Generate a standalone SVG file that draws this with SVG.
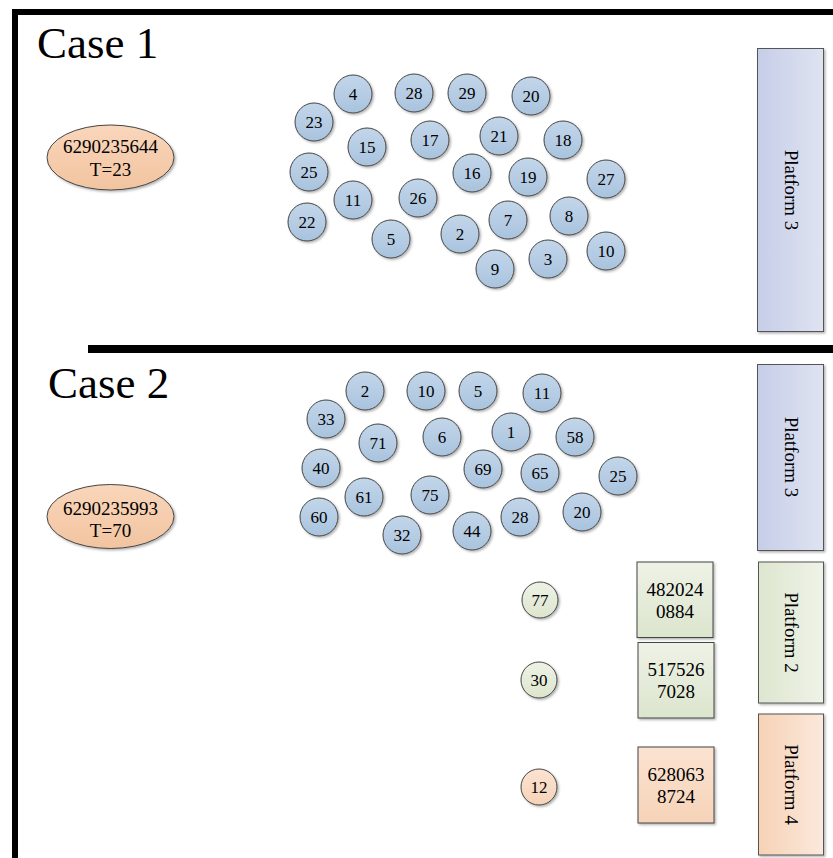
<svg xmlns="http://www.w3.org/2000/svg" width="833" height="858" viewBox="0 0 833 858">
  <defs>
    <linearGradient id="gBlue" x1="0" y1="0" x2="0" y2="1">
      <stop offset="0" stop-color="#c3d6ea"/>
      <stop offset="1" stop-color="#a9c3de"/>
    </linearGradient>
    <linearGradient id="gPeach" x1="0" y1="0" x2="0" y2="1">
      <stop offset="0" stop-color="#f9d6bb"/>
      <stop offset="1" stop-color="#f2c4a0"/>
    </linearGradient>
    <linearGradient id="gPeachLight" x1="0" y1="0" x2="0" y2="1">
      <stop offset="0" stop-color="#fbe3d1"/>
      <stop offset="1" stop-color="#f6d3b8"/>
    </linearGradient>
    <linearGradient id="gGreen" x1="0" y1="0" x2="0" y2="1">
      <stop offset="0" stop-color="#eef2e6"/>
      <stop offset="1" stop-color="#dce5cd"/>
    </linearGradient>
    <linearGradient id="gPlat3" x1="0" y1="0" x2="1" y2="0">
      <stop offset="0" stop-color="#c6cde8"/>
      <stop offset="1" stop-color="#dfe3f1"/>
    </linearGradient>
    <linearGradient id="gPlat2" x1="0" y1="0" x2="1" y2="0">
      <stop offset="0" stop-color="#dde6cf"/>
      <stop offset="1" stop-color="#eff3e8"/>
    </linearGradient>
    <linearGradient id="gPlat4" x1="0" y1="0" x2="1" y2="0">
      <stop offset="0" stop-color="#f6d2b5"/>
      <stop offset="1" stop-color="#fbe9dc"/>
    </linearGradient>
    <filter id="shadow" x="-20%" y="-20%" width="150%" height="150%">
      <feDropShadow dx="1.5" dy="1.5" stdDeviation="0.8" flood-color="#000" flood-opacity="0.3"/>
    </filter>
  </defs>
  <style>
    text { font-family: "Liberation Serif", "Times New Roman", serif; fill: #000; text-anchor: middle; }
    .title { font-size: 45px; text-anchor: start; }
    .num { font-size: 17px; }
    .lbl { font-size: 19px; }
    .node { stroke: #454545; stroke-width: 1; filter: url(#shadow); }
    .blue { fill: url(#gBlue); }
    .plat { stroke: #555; stroke-width: 1; filter: url(#shadow); }
  </style>

  <rect width="833" height="858" fill="#fff"/>

  <!-- outer frame and section divider -->
  <g id="frame" fill="#000">
    <rect x="12" y="9" width="821" height="6"/>
    <rect x="12" y="9" width="6" height="849"/>
    <rect x="88" y="345" width="745" height="8"/>
  </g>

  <text class="title" x="37" y="58">Case 1</text>
  <text class="title" x="48" y="398">Case 2</text>

  <!-- Case 1 -->
  <g id="c1-source">
    <ellipse class="node" cx="110.5" cy="157.5" rx="63.5" ry="32.5" fill="url(#gPeach)"/>
    <text class="lbl" x="110.5" y="153">6290235644</text>
    <text class="lbl" x="110.5" y="176">T=23</text>
  </g>

  <g id="c1-platform3">
    <rect class="plat" x="757.5" y="48.5" width="66" height="283" fill="url(#gPlat3)"/>
    <text class="lbl" transform="translate(790.5,190) rotate(90)" x="0" y="6">Platform 3</text>
  </g>

  <g id="c1-nodes">
    <g id="c1-n4"><circle class="node blue" cx="353" cy="94" r="19"/><text class="num" x="353" y="100">4</text></g>
    <g id="c1-n28"><circle class="node blue" cx="414" cy="93" r="19"/><text class="num" x="414" y="99">28</text></g>
    <g id="c1-n29"><circle class="node blue" cx="467" cy="93" r="19"/><text class="num" x="467" y="99">29</text></g>
    <g id="c1-n20"><circle class="node blue" cx="531" cy="96" r="19"/><text class="num" x="531" y="102">20</text></g>
    <g id="c1-n23"><circle class="node blue" cx="314" cy="122" r="19"/><text class="num" x="314" y="128">23</text></g>
    <g id="c1-n15"><circle class="node blue" cx="367" cy="147" r="19"/><text class="num" x="367" y="153">15</text></g>
    <g id="c1-n17"><circle class="node blue" cx="430" cy="140" r="19"/><text class="num" x="430" y="146">17</text></g>
    <g id="c1-n21"><circle class="node blue" cx="499" cy="136" r="19"/><text class="num" x="499" y="142">21</text></g>
    <g id="c1-n18"><circle class="node blue" cx="563" cy="140" r="19"/><text class="num" x="563" y="146">18</text></g>
    <g id="c1-n25"><circle class="node blue" cx="309" cy="172" r="19"/><text class="num" x="309" y="178">25</text></g>
    <g id="c1-n16"><circle class="node blue" cx="472" cy="173" r="19"/><text class="num" x="472" y="179">16</text></g>
    <g id="c1-n19"><circle class="node blue" cx="528" cy="177" r="19"/><text class="num" x="528" y="183">19</text></g>
    <g id="c1-n27"><circle class="node blue" cx="606" cy="179" r="19"/><text class="num" x="606" y="185">27</text></g>
    <g id="c1-n11"><circle class="node blue" cx="353" cy="200" r="19"/><text class="num" x="353" y="206">11</text></g>
    <g id="c1-n26"><circle class="node blue" cx="418" cy="198" r="19"/><text class="num" x="418" y="204">26</text></g>
    <g id="c1-n22"><circle class="node blue" cx="307" cy="222" r="19"/><text class="num" x="307" y="228">22</text></g>
    <g id="c1-n5"><circle class="node blue" cx="391" cy="239" r="19"/><text class="num" x="391" y="245">5</text></g>
    <g id="c1-n2"><circle class="node blue" cx="460" cy="234" r="19"/><text class="num" x="460" y="240">2</text></g>
    <g id="c1-n7"><circle class="node blue" cx="508" cy="220" r="19"/><text class="num" x="508" y="226">7</text></g>
    <g id="c1-n8"><circle class="node blue" cx="569" cy="216" r="19"/><text class="num" x="569" y="222">8</text></g>
    <g id="c1-n9"><circle class="node blue" cx="495" cy="269" r="19"/><text class="num" x="495" y="275">9</text></g>
    <g id="c1-n3"><circle class="node blue" cx="548" cy="259" r="19"/><text class="num" x="548" y="265">3</text></g>
    <g id="c1-n10"><circle class="node blue" cx="606" cy="251" r="19"/><text class="num" x="606" y="257">10</text></g>
  </g>

  <!-- Case 2 -->
  <g id="c2-source">
    <ellipse class="node" cx="110.5" cy="516.5" rx="63.5" ry="32" fill="url(#gPeach)"/>
    <text class="lbl" x="110.5" y="514.5">6290235993</text>
    <text class="lbl" x="110.5" y="536.5">T=70</text>
  </g>

  <g id="c2-platform3">
    <rect class="plat" x="757.5" y="364.5" width="66" height="186" fill="url(#gPlat3)"/>
    <text class="lbl" transform="translate(790.5,457) rotate(90)" x="0" y="6">Platform 3</text>
  </g>
  <g id="c2-platform2">
    <rect class="plat" x="758.5" y="562" width="65" height="141" fill="url(#gPlat2)"/>
    <text class="lbl" transform="translate(791,632.5) rotate(90)" x="0" y="6">Platform 2</text>
  </g>
  <g id="c2-platform4">
    <rect class="plat" x="758.5" y="714" width="65" height="141" fill="url(#gPlat4)"/>
    <text class="lbl" transform="translate(791,784.5) rotate(90)" x="0" y="6">Platform 4</text>
  </g>

  <g id="c2-nodes">
    <g id="c2-n2"><circle class="node blue" cx="365" cy="391" r="19"/><text class="num" x="365" y="397">2</text></g>
    <g id="c2-n10"><circle class="node blue" cx="426" cy="391" r="19"/><text class="num" x="426" y="397">10</text></g>
    <g id="c2-n5"><circle class="node blue" cx="478" cy="391" r="19"/><text class="num" x="478" y="397">5</text></g>
    <g id="c2-n11"><circle class="node blue" cx="542" cy="393" r="19"/><text class="num" x="542" y="399">11</text></g>
    <g id="c2-n33"><circle class="node blue" cx="326" cy="419" r="19"/><text class="num" x="326" y="425">33</text></g>
    <g id="c2-n71"><circle class="node blue" cx="378" cy="443" r="19"/><text class="num" x="378" y="449">71</text></g>
    <g id="c2-n6"><circle class="node blue" cx="442" cy="437" r="19"/><text class="num" x="442" y="443">6</text></g>
    <g id="c2-n1"><circle class="node blue" cx="511" cy="432" r="19"/><text class="num" x="511" y="438">1</text></g>
    <g id="c2-n58"><circle class="node blue" cx="575" cy="437" r="19"/><text class="num" x="575" y="443">58</text></g>
    <g id="c2-n40"><circle class="node blue" cx="321" cy="468" r="19"/><text class="num" x="321" y="474">40</text></g>
    <g id="c2-n69"><circle class="node blue" cx="483" cy="469" r="19"/><text class="num" x="483" y="475">69</text></g>
    <g id="c2-n65"><circle class="node blue" cx="540" cy="473" r="19"/><text class="num" x="540" y="479">65</text></g>
    <g id="c2-n25"><circle class="node blue" cx="618" cy="476" r="19"/><text class="num" x="618" y="482">25</text></g>
    <g id="c2-n61"><circle class="node blue" cx="364" cy="497" r="19"/><text class="num" x="364" y="503">61</text></g>
    <g id="c2-n75"><circle class="node blue" cx="430" cy="495" r="19"/><text class="num" x="430" y="501">75</text></g>
    <g id="c2-n60"><circle class="node blue" cx="319" cy="517" r="19"/><text class="num" x="319" y="523">60</text></g>
    <g id="c2-n32"><circle class="node blue" cx="402" cy="535" r="19"/><text class="num" x="402" y="541">32</text></g>
    <g id="c2-n44"><circle class="node blue" cx="472" cy="531" r="19"/><text class="num" x="472" y="537">44</text></g>
    <g id="c2-n28"><circle class="node blue" cx="520" cy="517" r="19"/><text class="num" x="520" y="523">28</text></g>
    <g id="c2-n20"><circle class="node blue" cx="582" cy="512" r="19"/><text class="num" x="582" y="518">20</text></g>
  </g>

  <g id="c2-n77"><circle class="node" cx="540" cy="600" r="18" fill="url(#gGreen)"/><text class="num" x="540" y="606">77</text></g>
  <g id="c2-n30"><circle class="node" cx="539" cy="680" r="18" fill="url(#gGreen)"/><text class="num" x="539" y="686">30</text></g>
  <g id="c2-n12"><circle class="node" cx="539" cy="787" r="18" fill="url(#gPeachLight)"/><text class="num" x="539" y="793">12</text></g>

  <g id="c2-box4820240884">
    <rect class="node" x="637" y="562" width="76" height="75.5" fill="url(#gGreen)"/>
    <text class="lbl" x="675" y="595.5">482024</text>
    <text class="lbl" x="675" y="618">0884</text>
  </g>
  <g id="c2-box5175267028">
    <rect class="node" x="638" y="642.5" width="76" height="75.5" fill="url(#gGreen)"/>
    <text class="lbl" x="676" y="675.5">517526</text>
    <text class="lbl" x="676" y="698">7028</text>
  </g>
  <g id="c2-box6280638724">
    <rect class="node" x="638" y="747" width="76" height="76" fill="url(#gPeachLight)"/>
    <text class="lbl" x="676" y="780.5">628063</text>
    <text class="lbl" x="676" y="803">8724</text>
  </g>
</svg>
